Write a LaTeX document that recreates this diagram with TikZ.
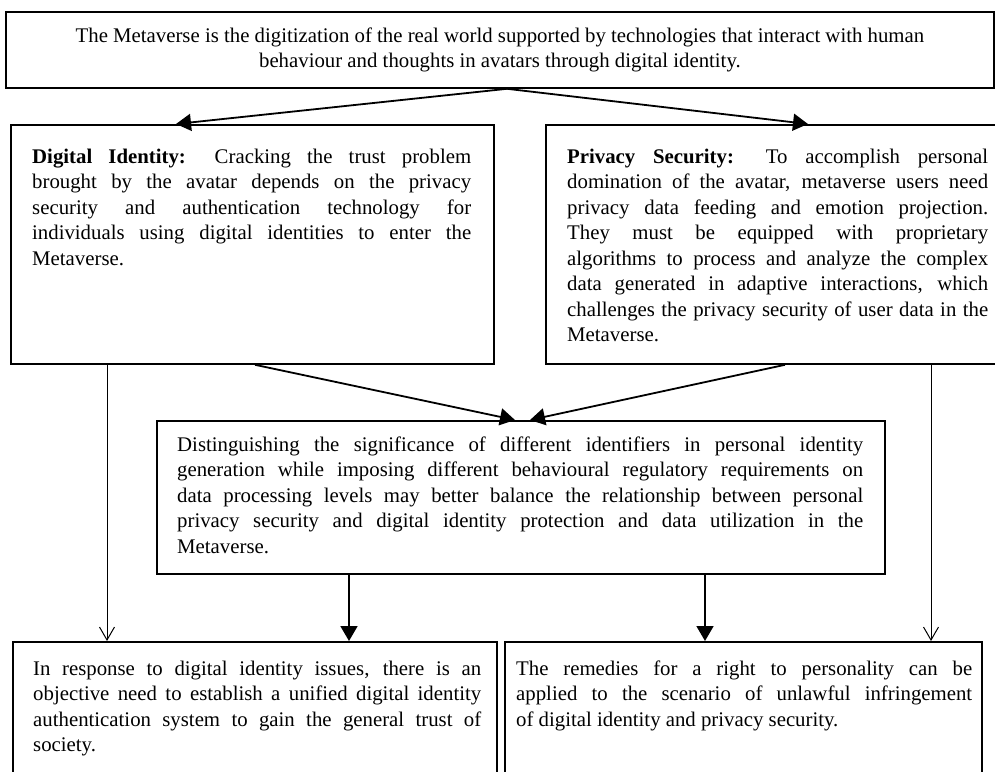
\documentclass[tikz,border=0pt]{standalone}
\usepackage{fontspec}
\setmainfont{Liberation Serif}
\usetikzlibrary{arrows.meta}
\begin{document}
\begin{tikzpicture}[x=1pt,y=-1pt,
  box/.style={draw, line width=1.8pt, inner sep=0pt, anchor=north west},
  txt/.style={inner sep=0pt, anchor=north west, align=justify, font=\fontsize{20.8}{25.5}\selectfont},
  bigarr/.style={line width=1.8pt, -{Triangle[length=15pt,width=17pt]}},
  thinarr/.style={line width=1pt, -{Straight Barb[length=13pt,width=15pt]}}]
\useasboundingbox (0,0) rectangle (995,771);
\clip (0,0) rectangle (995,771);
\fill[white] (0,0) rectangle (995,771);
% boxes
\node[box, minimum width=988pt, minimum height=76pt] (T) at (5,11) {};
\node[box, minimum width=483pt, minimum height=239pt] (L) at (10,124) {};
\node[box, minimum width=470pt, minimum height=239pt] (R) at (545,124) {};
\node[box, minimum width=728pt, minimum height=153pt] (M) at (156,420) {};
\node[box, minimum width=484pt, minimum height=200pt] (BL) at (12,641) {};
\node[box, minimum width=477pt, minimum height=200pt] (BR) at (504,641) {};
% texts
\node[inner sep=0pt, align=center, font=\fontsize{20.8}{25.5}\selectfont] (tT) at (T.center)
 {The Metaverse is the digitization of the real world supported by technologies that interact with human\\
  behaviour and thoughts in avatars through digital identity.};
\node[txt, text width=439pt] (tL) at (32,148)
 {\rule{0pt}{15pt}\textbf{Digital Identity:} Cracking the trust problem\linebreak
  brought by the avatar depends on the privacy\linebreak
  security and authentication technology for\linebreak
  individuals using digital identities to enter the\linebreak
  Metaverse.};
\node[txt, text width=421pt] (tR) at (567,148)
 {\rule{0pt}{15pt}\textbf{Privacy Security:} To accomplish personal\linebreak
  domination of the avatar, metaverse users need\linebreak
  privacy data feeding and emotion projection.\linebreak
  They must be equipped with proprietary\linebreak
  algorithms to process and analyze the complex\linebreak
  data generated in adaptive interactions, which\linebreak
  challenges the privacy security of user data in the\linebreak
  Metaverse.};
\node[txt, text width=686pt] (tM) at (177,436)
 {\rule{0pt}{15pt}Distinguishing the significance of different identifiers in personal identity\linebreak
  generation while imposing different behavioural regulatory requirements on\linebreak
  data processing levels may better balance the relationship between personal\linebreak
  privacy security and digital identity protection and data utilization in the\linebreak
  Metaverse.};
\node[txt, text width=448pt] (tBL) at (33,660)
 {\rule{0pt}{15pt}In response to digital identity issues, there is an\linebreak
  objective need to establish a unified digital identity\linebreak
  authentication system to gain the general trust of\linebreak
  society.};
\node[txt, text width=456pt] (tBR) at (516,660)
 {\rule{0pt}{15pt}The remedies for a right to personality can be\linebreak
  applied to the scenario of unlawful infringement\linebreak
  of digital identity and privacy security.};
% connectors
\draw[bigarr] ([xshift=502pt]T.south west) -- ([xshift=166pt]L.north west);
\draw[bigarr] ([xshift=502pt]T.south west) -- ([xshift=263pt]R.north west);
\draw[bigarr] ([xshift=245pt]L.south west) -- ([xshift=359pt]M.north west);
\draw[bigarr] ([xshift=240pt]R.south west) -- ([xshift=374pt]M.north west);
\draw[thinarr] ([xshift=97pt]L.south west) -- ([xshift=95pt]BL.north west);
\draw[thinarr] ([xshift=386pt]R.south west) -- ([xshift=427pt]BR.north west);
\draw[bigarr] ([xshift=193pt]M.south west) -- ([xshift=337pt]BL.north west);
\draw[bigarr] ([xshift=549pt]M.south west) -- ([xshift=201pt]BR.north west);
\end{tikzpicture}
\end{document}
